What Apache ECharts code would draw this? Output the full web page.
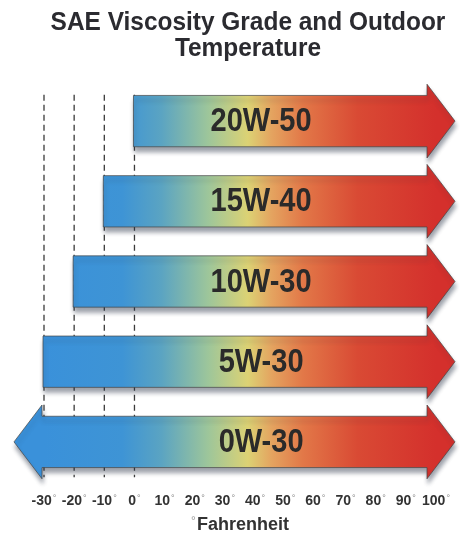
<!DOCTYPE html>
<html>
<head>
<meta charset="utf-8">
<script src="https://cdn.jsdelivr.net/npm/echarts@6/dist/echarts.min.js"></script>
<style>
html,body{margin:0;padding:0;background:#fff;}
#c{width:460px;height:539px;}
</style>
</head>
<body>
<div id="c"></div>
<script>
// Data
var grades = ['0W-30', '5W-30', '10W-30', '15W-40', '20W-50'];
var lowTemp = [-30, -30, -20, -10, 0];      // lowest outdoor temperature (°F)
var highTemp = [100, 100, 100, 100, 100];   // upper end of the range (°F)
var openLow = [1, 0, 0, 0, 0];              // arrow continues to colder temps
var dashedAt = [-30, -20, -10, 0];
var tickMin = -30, tickMax = 100, tickStep = 10;
var titleText = 'SAE Viscosity Grade and Outdoor\nTemperature';
var axisName = 'Fahrenheit';

var FONT = '"Liberation Sans","Arial",sans-serif';

var chart = echarts.init(document.getElementById('c'));

var barData = grades.map(function (g, i) {
  return [lowTemp[i], highTemp[i], i, openLow[i]];
});

var option = {
  backgroundColor: '#ffffff',
  animation: false,
  graphic: [
    {
      type: 'text', x: 248, y: 10, scaleX: 0.94, silent: true,
      style: {
        text: titleText, align: 'center', verticalAlign: 'top',
        fontFamily: FONT, fontWeight: 'bold', fontSize: 26, lineHeight: 26, fill: '#2b2b30'
      }
    }
  ],
  grid: { left: 44, right: 24, top: 81, bottom: 54 },
  xAxis: {
    type: 'value', min: tickMin, max: tickMax, interval: tickStep,
    axisLine: { show: false }, axisTick: { show: false }, splitLine: { show: false },
    axisLabel: {
      formatter: function (v) { return '{n|' + v + '}{d|°}'; },
      margin: 12,
      rich: {
        n: { color: '#333', fontSize: 14, fontWeight: 'bold', fontFamily: FONT },
        d: { color: '#888', fontSize: 9, fontFamily: FONT, verticalAlign: 'top', padding: [0, 0, 4, 1] }
      }
    },
    name: '{d|°}{n|' + axisName + '}', nameLocation: 'middle', nameGap: 34,
    nameTextStyle: {
      rich: {
        n: { color: '#333', fontSize: 18, fontWeight: 'bold', fontFamily: FONT },
        d: { color: '#999', fontSize: 12, fontFamily: FONT, padding: [0, 1, 6, 0] }
      }
    }
  },
  yAxis: { type: 'category', data: grades, show: false },
  series: [
    {
      type: 'custom',
      z: 1,
      silent: true,
      data: dashedAt.map(function (v) { return [v]; }),
      renderItem: function (params, api) {
        var v = api.value(0);
        var band = api.size([0, 1])[1];
        var top = api.coord([v, grades.length - 1])[1] - band * 0.33;
        var bot = api.coord([v, 0])[1] + band * 0.44;
        var x = api.coord([v, 0])[0];
        return {
          type: 'line',
          shape: { x1: x, y1: top, x2: x, y2: bot },
          style: { stroke: '#3a3a3a', lineWidth: 1.3, lineDash: [6, 4] }
        };
      }
    },
    {
      type: 'custom',
      z: 3,
      clip: false,
      data: barData,
      renderItem: function (params, api) {
        var lo = api.value(0), hi = api.value(1), cat = api.value(2), open = api.value(3);
        var name = grades[cat];
        var pLo = api.coord([lo, cat]);
        var pHi = api.coord([hi, cat]);
        var band = api.size([0, 1])[1];
        var yc = pLo[1];
        var bh = band * 0.32, hh = band * 0.46;
        var tip = pHi[0] + 19, end = tip - 28;
        var start = open ? pLo[0] - 2 : pLo[0] - 1;
        var pts = [[start, yc - bh], [end, yc - bh], [end, yc - hh], [tip, yc], [end, yc + hh], [end, yc + bh], [start, yc + bh]];
        if (open) {
          pts.push([start, yc + hh], [start - 28, yc], [start, yc - hh]);
        }
        var gx0 = api.coord([tickMin, cat])[0], gx1 = api.coord([tickMax, cat])[0];
        var fill = {
          type: 'linear', global: true, x: gx0, y: 0, x2: gx1, y2: 0,
          colorStops: [
            { offset: 0, color: '#3a91da' },
            { offset: 0.2, color: '#3e94d5' },
            { offset: 0.3, color: '#5ba4c2' },
            { offset: 0.42, color: '#9ec69a' },
            { offset: 0.52, color: '#dcd274' },
            { offset: 0.58, color: '#e4a460' },
            { offset: 0.66, color: '#e27848' },
            { offset: 0.8, color: '#d94a34' },
            { offset: 1, color: '#d4302c' }
          ]
        };
        var labelX = api.coord([42, cat])[0];
        return {
          type: 'group',
          children: [
            {
              type: 'polygon',
              shape: { points: pts },
              style: {
                fill: fill, stroke: 'rgba(70,70,70,0.7)', lineWidth: 1,
                shadowColor: 'rgba(40,50,70,0.45)', shadowBlur: 4, shadowOffsetX: 1, shadowOffsetY: 5
              }
            },
            {
              type: 'text',
              x: labelX, y: yc + 1, scaleX: 0.88,
              style: {
                text: name, x: 0, y: 0, align: 'center', verticalAlign: 'middle',
                fontFamily: FONT, fontWeight: 'bold', fontSize: 33, fill: '#2a2a2a'
              }
            }
          ]
        };
      }
    }
  ]
};
chart.setOption(option);
</script>
</body>
</html>
